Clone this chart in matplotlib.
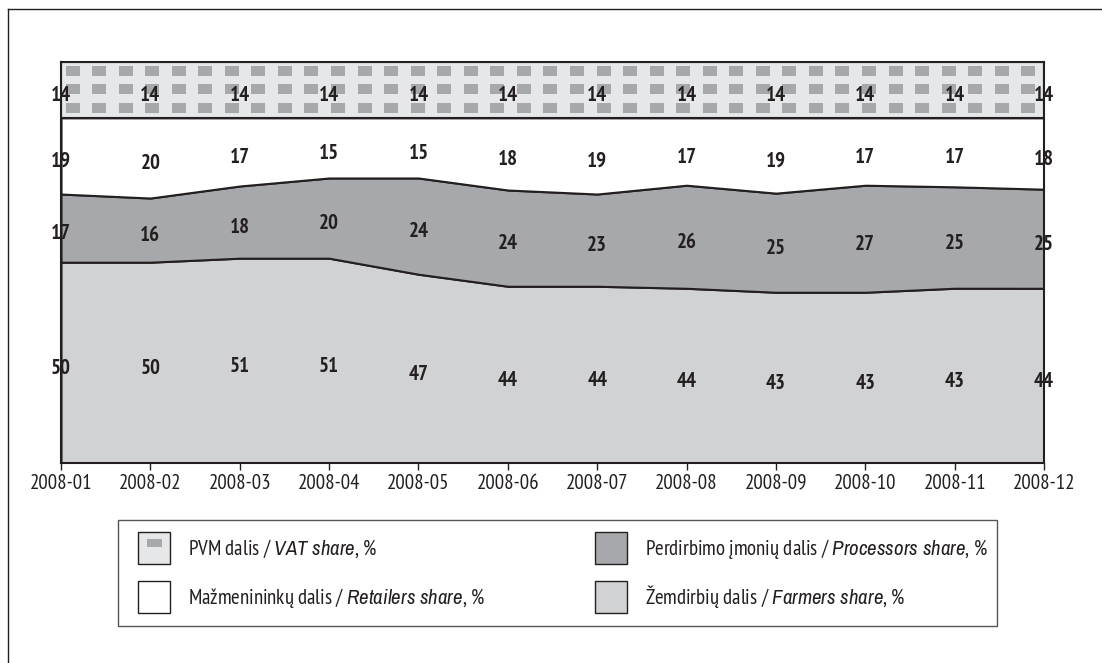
import matplotlib
matplotlib.use('Agg')
import matplotlib.pyplot as plt
import numpy as np
from matplotlib import font_manager
from matplotlib.patches import Patch, Rectangle
from matplotlib.lines import Line2D
from matplotlib.legend_handler import HandlerTuple

# data (shares, %)
months = ['2008-01', '2008-02', '2008-03', '2008-04', '2008-05', '2008-06',
          '2008-07', '2008-08', '2008-09', '2008-10', '2008-11', '2008-12']
farmers = [50, 50, 51, 51, 47, 44, 44, 44, 43, 43, 43, 44]
processors = [17, 16, 18, 20, 24, 24, 23, 26, 25, 27, 25, 25]
retailers = [19, 20, 17, 15, 15, 18, 19, 17, 19, 17, 17, 18]
vat = [14, 14, 14, 14, 14, 14, 14, 14, 14, 14, 14, 14]


def pick_font(candidates, need_italic=False):
    for name in candidates:
        styles = {f.style for f in font_manager.fontManager.ttflist if f.name == name}
        if styles and (not need_italic or 'italic' in styles):
            return name
    return 'DejaVu Sans'


FONT = pick_font(['PT Sans Narrow', 'Archivo Narrow', 'Asap Condensed',
                  'Roboto Condensed', 'Liberation Sans Narrow', 'Liberation Sans'])
FONT_IT = pick_font(['Archivo Narrow', 'Asap Condensed', 'Roboto Condensed',
                     'Fira Sans Condensed', 'PT Sans', 'Liberation Sans'],
                    need_italic=True)
plt.rcParams['font.family'] = [FONT, 'DejaVu Sans']
plt.rcParams['mathtext.fontset'] = 'custom'
plt.rcParams['mathtext.rm'] = FONT
plt.rcParams['mathtext.it'] = FONT_IT + ':italic'

DARK = '#231f20'
C_FARM = '#d1d2d4'
C_PROC = '#a7a8ab'
C_RET = '#ffffff'
C_VAT = '#e6e7e8'
C_DOT = '#a7a8ab'

W, H = 1102, 663
fig = plt.figure(figsize=(W / 100, H / 100), dpi=100)
ax = fig.add_axes([61 / W, 1 - 462.7 / H, 983 / W, 401 / H])

x = np.arange(len(months))
lower = np.array([farmers, processors, retailers], dtype=float)
vat_arr = np.array(vat, dtype=float)
# lower three shares scaled to fill what is left under the VAT band
lower = lower / lower.sum(axis=0) * (100 - vat_arr)
shares = np.vstack([lower, vat_arr])

polys = ax.stackplot(x, shares, colors=[C_FARM, C_PROC, C_RET, C_VAT],
                     edgecolor=DARK, linewidth=1.5)

# dotted pattern on the VAT band
sq = [(-0.65, -0.5), (0.65, -0.5), (0.65, 0.5), (-0.65, 0.5), (-0.65, -0.5)]
px = np.arange(11.5 / 983, 0.99, 26.55 / 983)
py = [0.977, 0.932, 0.8845]
gx, gy = np.meshgrid(px, py)
dots = ax.scatter(gx.ravel(), gy.ravel(), s=92, marker=sq, color=C_DOT,
                  linewidths=0, transform=ax.transAxes, zorder=2.2)
vp = polys[3]
dots.set_clip_path(vp.get_paths()[0], vp.get_transform())

# value labels
centers = np.cumsum(shares, axis=0) - shares / 2
for i, series in enumerate([farmers, processors, retailers, vat]):
    for j, v in enumerate(series):
        ax.annotate(str(v), (j, centers[i][j]), xytext=(0, -4),
                    textcoords='offset points', ha='center', va='center',
                    fontsize=15, fontweight='bold', color=DARK,
                    annotation_clip=False, zorder=5)

ax.set_xlim(0, len(months) - 1)
ax.set_ylim(0, 100)
ax.set_xticks(x)
ax.set_xticklabels(months)
ax.set_yticks([])
ax.tick_params(axis='x', direction='out', length=5, width=1, pad=3,
               labelsize=15, colors=DARK)
for sp in ax.spines.values():
    sp.set_linewidth(1.5)
    sp.set_color(DARK)

# outer frame
fig.add_artist(Line2D([8 / W, 8 / W], [0, 1 - 9 / H], transform=fig.transFigure,
                      color=DARK, lw=1))
fig.add_artist(Line2D([8 / W, 1], [1 - 9 / H, 1 - 9 / H], transform=fig.transFigure,
                      color=DARK, lw=1))

# legend: frame plus two one-column legends
fig.add_artist(Rectangle((118 / W, 1 - 626 / H), 879 / W, 106 / H,
                         transform=fig.transFigure, fill=False,
                         edgecolor='#555555', lw=1))
dash = [(-0.75, -0.4), (0.75, -0.4), (0.75, 0.4), (-0.75, 0.4), (-0.75, -0.4)]
h_vat = (Patch(facecolor=C_VAT, edgecolor=DARK, lw=1),
         Line2D([], [], ls='none', marker=dash, ms=10.8, mfc=C_DOT, mew=0))
cols = [
    ([h_vat, Patch(facecolor=C_RET, edgecolor=DARK, lw=1)],
     [r'PVM dalis / $\mathit{VAT\ share}$, %',
      r'Mažmenininkų dalis / $\mathit{Retailers\ share}$, %'], 138),
    ([Patch(facecolor=C_PROC, edgecolor=DARK, lw=1),
      Patch(facecolor=C_FARM, edgecolor=DARK, lw=1)],
     [r'Perdirbimo įmonių dalis / $\mathit{Processors\ share}$, %',
      r'Žemdirbių dalis / $\mathit{Farmers\ share}$, %'], 595),
]
for hs, ls, left in cols:
    leg = fig.legend(hs, ls, loc='upper left',
                     bbox_to_anchor=(left / W, 1 - 532 / H),
                     frameon=False, fontsize=15, borderpad=0, borderaxespad=0,
                     handlelength=1.55, handleheight=2.0, handletextpad=0.85,
                     labelspacing=0.8,
                     handler_map={tuple: HandlerTuple(ndivide=1, pad=0)})
    for t in leg.get_texts():
        t.set_color(DARK)

fig.savefig('out.png', dpi=100)
